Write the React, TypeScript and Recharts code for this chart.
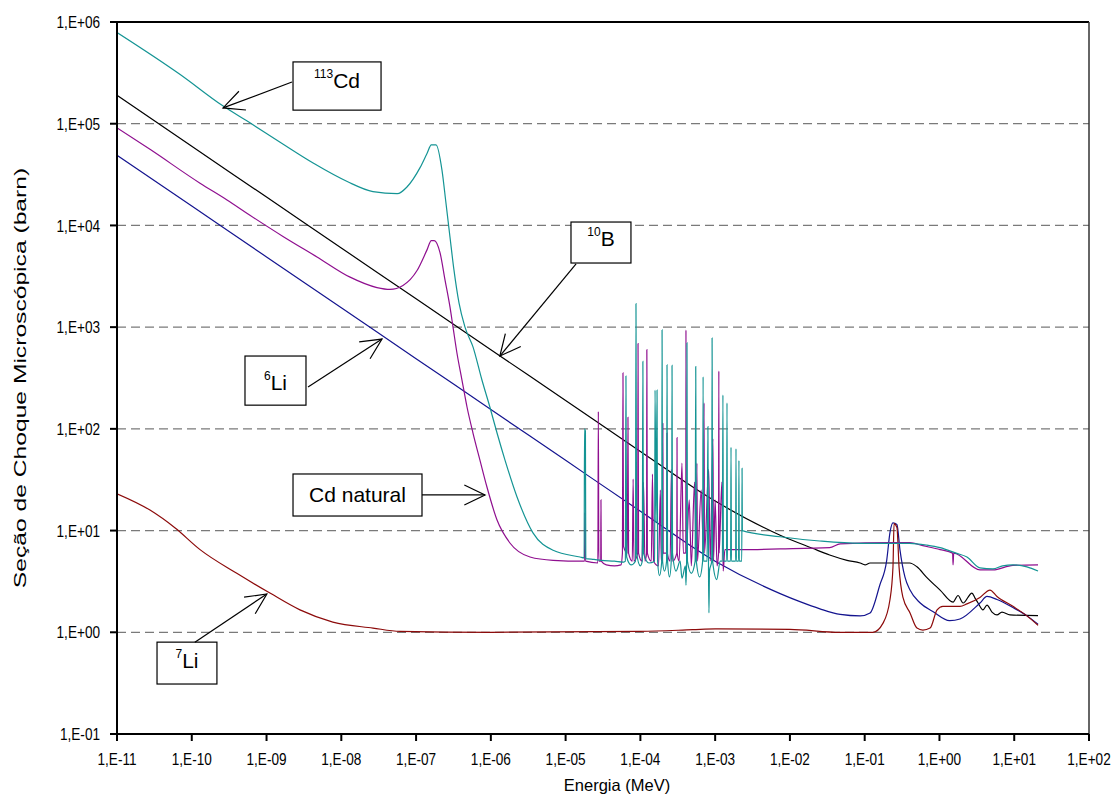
import React from 'react';
import { LineChart, Line, XAxis, YAxis, CartesianGrid, ReferenceLine, ReferenceArea } from 'recharts';

// Energy axis ticks (MeV) and cross-section ticks (barn)
const xTicks = [1e-11, 1e-10, 1e-9, 1e-8, 1e-7, 1e-6, 1e-5, 1e-4, 1e-3, 1e-2, 1e-1, 1e0, 1e1, 1e2];
const yTicks = [1e-1, 1e0, 1e1, 1e2, 1e3, 1e4, 1e5, 1e6];

// [energy MeV, sigma barn]
const cd113: [number, number][] = [
  [1e-11, 7.9e5], [7.0e-11, 3.05e5], [2.6e-10, 1.5e5], [6.0e-10, 1.02e5], [1.5e-9, 6.6e4], [4.2e-9, 4.1e4],
  [1.2e-8, 2.7e4], [2.65e-8, 2.15e4], [5.6e-8, 2.05e4], [7.6e-8, 2.4e4], [1.13e-7, 3.7e4], [1.4e-7, 5.1e4],
  [1.6e-7, 6.2e4], [1.85e-7, 6.2e4], [2.22e-7, 3.5e4], [2.51e-7, 1.66e4], [2.84e-7, 7.7e3], [3.21e-7, 3.65e3],
  [3.75e-7, 1.73e3], [4.51e-7, 1.0e3], [5.77e-7, 640], [7.6e-7, 302], [9.7e-7, 164], [1.21e-6, 91],
  [1.55e-6, 49], [2.24e-6, 21.4], [3.66e-6, 9.5], [6.8e-6, 6.4], [1.56e-5, 5.5],
  [1.77e-5, 5.4], [1.79e-5, 100], [1.84e-5, 95], [1.86e-5, 5.3], [2.4e-5, 5.2], [3.0e-5, 5.1], [4.5e-5, 5.0],
  [6.0e-5, 4.9], [6.3e-5, 5.0], [6.41e-5, 330], [6.55e-5, 5.5], [7.5e-5, 4.6], [8.6e-5, 5.0], [8.73e-5, 1700],
  [8.9e-5, 6.0], [1.0e-4, 4.5], [1.06e-4, 5.0], [1.08e-4, 460], [1.1e-4, 6.0], [1.3e-4, 4.8], [1.55e-4, 5.0],
  [1.57e-4, 240], [1.62e-4, 12], [1.67e-4, 240], [1.7e-4, 5.0], [1.8e-4, 3.6], [1.93e-4, 5.0], [1.95e-4, 940],
  [1.98e-4, 5.0], [2.1e-4, 4.0], [2.24e-4, 5.0], [2.27e-4, 425], [2.31e-4, 5.0], [2.45e-4, 3.5], [2.62e-4, 6.0],
  [2.65e-4, 420], [2.69e-4, 6.0], [3.0e-4, 4.0], [3.4e-4, 5.0], [3.6e-4, 3.4], [4.0e-4, 4.5], [4.07e-4, 2.9],
  [4.15e-4, 5.0], [4.2e-4, 700], [4.26e-4, 5.0], [4.8e-4, 3.8], [5.4e-4, 5.0], [5.5e-4, 410], [5.6e-4, 5.0],
  [6.2e-4, 3.5], [6.8e-4, 5.0], [6.9e-4, 325], [7.0e-4, 5.0], [7.8e-4, 5.0], [8.0e-4, 105], [8.15e-4, 4.0],
  [8.26e-4, 1.55], [8.4e-4, 4.0], [9.0e-4, 5.0], [9.1e-4, 780], [9.25e-4, 5.0], [1.05e-3, 3.3], [1.17e-3, 5.0],
  [1.25e-3, 5.0], [1.27e-3, 215], [1.29e-3, 5.0], [1.42e-3, 5.0], [1.44e-3, 180], [1.46e-3, 5.0], [1.61e-3, 5.0],
  [1.63e-3, 66], [1.65e-3, 5.0], [1.88e-3, 5.0], [1.9e-3, 64], [1.92e-3, 5.0], [2.06e-3, 5.0], [2.08e-3, 49],
  [2.1e-3, 5.0], [2.27e-3, 5.0], [2.29e-3, 41], [2.31e-3, 10], [7.4e-3, 8.7], [2.5e-2, 7.9], [8.7e-2, 7.5],
  [0.4, 7.5], [0.68, 7.2], [1.02, 6.8], [1.67, 6.0], [2.33, 5.5], [3.48, 4.3], [5.2, 4.2], [7.0, 4.5],
  [9.6, 4.6], [14.8, 4.4], [20.8, 4.0],
];

const cdNatural: [number, number][] = [
  [1e-11, 9.1e4], [2.76e-11, 5.6e4], [1.29e-10, 2.6e4], [2.96e-10, 1.78e4], [6.0e-10, 1.26e4], [1.66e-9, 7.8e3],
  [4.73e-9, 4.9e3], [1.31e-8, 3.1e3], [3.0e-8, 2.45e3], [4.48e-8, 2.35e3], [6.68e-8, 2.57e3], [1.03e-7, 3.6e3],
  [1.4e-7, 5.75e3], [1.6e-7, 7.1e3], [1.75e-7, 7.1e3], [2.09e-7, 5.4e3], [2.44e-7, 2.9e3], [2.84e-7, 1.58e3],
  [3.12e-7, 1.0e3], [3.52e-7, 557], [4.11e-7, 302], [4.8e-7, 164], [5.77e-7, 91], [7.16e-7, 49], [8.87e-7, 26.8],
  [1.21e-6, 12.7], [1.8e-6, 7.55], [3.34e-6, 5.5], [6.8e-6, 5.1], [1.71e-5, 5.0],
  [1.79e-5, 5.0], [1.81e-5, 15], [1.85e-5, 5.0], [2.7e-5, 4.8], [2.74e-5, 148], [2.78e-5, 5.0], [2.95e-5, 5.0],
  [2.97e-5, 20], [3.0e-5, 5.0], [3.5e-5, 4.6], [4.5e-5, 4.5], [5.5e-5, 4.6], [5.75e-5, 6.0], [5.85e-5, 355],
  [5.95e-5, 7.0], [6.7e-5, 6.0], [6.82e-5, 130], [6.95e-5, 6.0], [7.8e-5, 5.0], [8.0e-5, 32], [8.2e-5, 5.0],
  [9.2e-5, 6.0], [9.3e-5, 690], [9.45e-5, 6.0], [1.05e-4, 5.0], [1.1e-4, 30], [1.15e-4, 5.0], [1.21e-4, 6.0],
  [1.22e-4, 600], [1.24e-4, 6.0], [1.4e-4, 5.0], [1.45e-4, 36], [1.5e-4, 5.0], [1.75e-4, 4.5], [1.85e-4, 25],
  [1.9e-4, 5.0], [1.99e-4, 6.0], [2.0e-4, 115], [2.02e-4, 6.0], [2.26e-4, 6.0], [2.27e-4, 91], [2.29e-4, 6.0],
  [2.5e-4, 5.0], [2.6e-4, 40], [2.7e-4, 5.0], [3.07e-4, 6.0], [3.09e-4, 82], [3.11e-4, 6.0], [3.3e-4, 5.0],
  [3.6e-4, 46], [3.75e-4, 6.0], [4.05e-4, 6.0], [4.07e-4, 940], [4.1e-4, 6.0], [4.5e-4, 20], [4.8e-4, 4.5],
  [5.3e-4, 30], [5.6e-4, 5.0], [5.7e-4, 46], [5.8e-4, 5.0], [6.5e-4, 25], [7.0e-4, 6.0], [7.1e-4, 180],
  [7.2e-4, 6.0], [8.2e-4, 40], [8.6e-4, 5.0], [9.35e-4, 80], [9.5e-4, 5.0], [1.0e-3, 20], [1.06e-3, 4.5],
  [1.11e-3, 6.0], [1.12e-3, 370], [1.13e-3, 6.0], [1.23e-3, 30], [1.28e-3, 4.0], [1.35e-3, 6.5], [2.3e-3, 6.5],
  [7.4e-3, 6.6], [3.4e-2, 6.8], [4.7e-2, 7.4], [0.22, 7.6], [0.4, 7.6], [0.6, 7.1], [1.02, 6.5], [1.5, 6.0],
  [1.52, 4.6], [1.55, 6.0], [3.48, 4.1], [5.2, 4.1], [9.6, 4.55], [20.8, 4.6],
];

const b10: [number, number][] = [
  [1e-11, 1.9e5], [1e-10, 6.0e4], [1e-9, 1.9e4], [1e-8, 6.0e3], [1e-7, 1.9e3], [1e-6, 600], [1e-5, 190],
  [1e-4, 60], [1e-3, 19.5], [7.4e-3, 9.0], [2.0e-2, 6.7], [3.4e-2, 5.75], [5.8e-2, 5.1], [8.7e-2, 4.8],
  [0.101, 4.6], [0.118, 4.8], [0.4, 4.8], [0.5, 4.4], [0.68, 3.45], [1.02, 2.6], [1.52, 1.98], [1.77, 2.3],
  [2.07, 1.94], [2.72, 2.43], [2.99, 2.17], [3.28, 1.94], [3.82, 1.66], [4.32, 1.85], [5.04, 1.58], [5.88, 1.48],
  [6.86, 1.58], [8.77, 1.48], [20.8, 1.46],
];

const li6: [number, number][] = [
  [1e-11, 4.9e4], [1e-10, 1.55e4], [1e-9, 4.9e3], [1e-8, 1.55e3], [1e-7, 490], [1e-6, 155], [1e-5, 49],
  [1e-4, 15.5], [1e-3, 5.0], [7.4e-3, 2.4], [1.36e-2, 2.0], [2.52e-2, 1.7], [4.7e-2, 1.5], [8.7e-2, 1.45],
  [0.118, 1.55], [0.159, 2.9], [0.197, 5.1], [0.218, 9.6], [0.239, 11.9], [0.27, 11.5], [0.296, 6.5],
  [0.345, 3.5], [0.404, 2.6], [0.548, 1.95], [0.815, 1.6], [1.37, 1.3], [1.88, 1.35], [3.48, 1.94],
  [4.32, 2.25], [5.88, 2.1], [9.6, 1.75], [14.8, 1.45], [20.8, 1.2],
];

const li7: [number, number][] = [
  [1e-11, 23], [2.76e-11, 15.9], [6.0e-11, 10.6], [1.29e-10, 6.5], [4.0e-10, 3.8], [1.11e-9, 2.43],
  [2.8e-9, 1.66], [7.7e-9, 1.26], [2.65e-8, 1.1], [6.1e-8, 1.02], [1e-6, 1.0], [1e-4, 1.02], [5e-4, 1.06],
  [1e-3, 1.08], [1e-2, 1.07], [4.7e-2, 1.0], [0.129, 1.0], [0.176, 1.23], [0.218, 2.1], [0.239, 4.4],
  [0.247, 11.7], [0.27, 10.7], [0.288, 4.4], [0.325, 2.2], [0.404, 1.55], [0.5, 1.1], [0.6, 1.05], [0.75, 1.1],
  [0.93, 1.66], [1.11, 1.8], [1.88, 1.8], [2.33, 1.9], [3.48, 2.2], [4.74, 2.6], [5.88, 2.25], [9.6, 1.8],
  [14.8, 1.45], [20.8, 1.17],
];

const seriesNames = ['10B', '6Li', '7Li', 'Cd natural', '113Cd'];
const seriesColors = ['#000000', '#14148f', '#8c0a0a', '#8f0f8f', '#149494'];
const seriesData = [b10, li6, li7, cdNatural, cd113];

// Annotation boxes: [xLeft, xRight, yTop, yBottom] in data units, arrow from -> to
const annotations = [
  { sup: '113', text: 'Cd', box: [2.26e-9, 3.4e-8, 4.05e5, 1.36e5], from: [2.19e-9, 2.57e5], to: [2.62e-10, 1.43e5], base: 26 },
  { sup: '10', text: 'B', box: [1.18e-5, 7.48e-5, 1.08e4, 4.27e3], from: [1.38e-5, 4.18e3], to: [1.32e-6, 520], base: 24 },
  { sup: '6', text: 'Li', box: [5.15e-10, 3.37e-9, 520, 171], from: [3.59e-9, 258], to: [3.5e-8, 764], base: 34 },
  { sup: '', text: 'Cd natural', box: [2.26e-9, 1.2e-7, 36, 13.9], from: [1.2e-7, 22.4], to: [8.36e-7, 22.4], base: 28 },
  { sup: '7', text: 'Li', box: [3.43e-11, 2.17e-10, 0.8, 0.31], from: [1.1e-10, 0.8], to: [1.01e-9, 2.38], base: 26 },
];

const FONT = '"Liberation Sans", Arial, Helvetica, sans-serif';

const fmt = (v: number) => {
  const e = Math.round(Math.log10(v));
  return `1,E${e < 0 ? '-' : '+'}${String(Math.abs(e)).padStart(2, '0')}`;
};

const YTick = (p: any) => (
  <g transform={`translate(${p.x},${p.y})`}>
    <text transform="scale(0.8,1)" textAnchor="end" dy="0.36em" fontSize={17} fontFamily={FONT} fill="#000">
      {fmt(p.payload.value)}
    </text>
  </g>
);

const XTick = (p: any) => (
  <g transform={`translate(${p.x},${p.y})`}>
    <text transform="scale(0.8,1)" textAnchor="middle" dy="0.71em" fontSize={17} fontFamily={FONT} fill="#000">
      {fmt(p.payload.value)}
    </text>
  </g>
);

const Arrow = (props: any) => {
  const { x1, y1, x2, y2 } = props;
  const ang = Math.atan2(y2 - y1, x2 - x1);
  const len = 23;
  const sp = 0.45;
  const ax = x2 - len * Math.cos(ang - sp);
  const ay = y2 - len * Math.sin(ang - sp);
  const bx = x2 - len * Math.cos(ang + sp);
  const by = y2 - len * Math.sin(ang + sp);
  return (
    <g>
      <line x1={x1} y1={y1} x2={x2} y2={y2} stroke="#000" strokeWidth={1.2} />
      <polyline points={`${ax},${ay} ${x2},${y2} ${bx},${by}`} fill="none" stroke="#000" strokeWidth={1.2} />
    </g>
  );
};

const makeBox = (sup: string, text: string, base: number) => (props: any) => {
  const { x, y, width, height } = props;
  return (
    <g>
      <rect x={x} y={y} width={width} height={height} fill="#fff" stroke="#000" strokeWidth={1.2} />
      <text x={x + width / 2} y={y + base} textAnchor="middle" fontFamily={FONT} fontSize={21} fill="#000">
        {sup ? <tspan fontSize={12} dy={-10}>{sup}</tspan> : null}
        <tspan dy={sup ? 10 : 0}>{text}</tspan>
      </text>
    </g>
  );
};

const YTitle = (props: any) => {
  const vb = props.viewBox || {};
  const cx = (vb.x || 0) + 20;
  const cy = (vb.y || 0) + (vb.height || 0) / 2;
  return (
    <g transform={`translate(${cx},${cy}) rotate(-90)`}>
      <text x={0} y={0} transform="scale(1.45,1)" textAnchor="middle" dominantBaseline="central"
        fontFamily={FONT} fontSize={17} fill="#000">
        Seção de Choque Microscópica (barn)
      </text>
    </g>
  );
};

const XTitle = (props: any) => {
  const vb = props.viewBox || {};
  const cx = (vb.x || 0) + (vb.width || 0) / 2 + 14;
  const cy = (vb.y || 0) + 57;
  return (
    <text x={cx} y={cy} textAnchor="middle" fontFamily={FONT} fontSize={16.5} fill="#000">
      Energia (MeV)
    </text>
  );
};

export default function App() {
  return (
    <div style={{ position: 'absolute', left: 0, top: 0, background: '#fff' }}>
      <LineChart width={1115} height={796} margin={{ top: 22, right: 26, left: 0, bottom: 0 }}>
        <CartesianGrid vertical={false} stroke="#7a7a7a" strokeDasharray="9 5" strokeWidth={1.2} />
        <XAxis
          dataKey="x"
          type="number"
          scale="log"
          domain={[1e-11, 100]}
          allowDataOverflow
          ticks={xTicks}
          interval={0}
          height={62}
          tickSize={7}
          tickMargin={12}
          axisLine={{ stroke: '#000', strokeWidth: 2 }}
          tickLine={{ stroke: '#000', strokeWidth: 2 }}
          tick={<XTick />}
          label={{ content: <XTitle /> }}
        />
        <YAxis
          dataKey="y"
          type="number"
          scale="log"
          domain={[0.1, 1e6]}
          allowDataOverflow
          ticks={yTicks}
          interval={0}
          width={117}
          tickSize={7}
          tickMargin={10}
          axisLine={{ stroke: '#000', strokeWidth: 2 }}
          tickLine={{ stroke: '#000', strokeWidth: 2 }}
          tick={<YTick />}
          label={{ content: <YTitle /> }}
        />
        <ReferenceLine y={1e6} stroke="#000" strokeWidth={2} ifOverflow="visible" />
        <ReferenceLine x={100} stroke="#333" strokeWidth={1.5} ifOverflow="visible" />
        {seriesData.map((d, i) => (
          <Line
            key={seriesNames[i]}
            name={seriesNames[i]}
            data={d.map(([x, y]) => ({ x, y }))}
            dataKey="y"
            type="monotone"
            stroke={seriesColors[i]}
            strokeWidth={1.2}
            dot={false}
            activeDot={false}
            isAnimationActive={false}
          />
        ))}
        {annotations.map((a, i) => (
          <ReferenceArea
            key={'box' + i}
            x1={a.box[0]}
            x2={a.box[1]}
            y1={a.box[3]}
            y2={a.box[2]}
            ifOverflow="visible"
            shape={makeBox(a.sup, a.text, a.base)}
          />
        ))}
        {annotations.map((a, i) => (
          <ReferenceLine
            key={'arr' + i}
            segment={[{ x: a.from[0], y: a.from[1] }, { x: a.to[0], y: a.to[1] }]}
            ifOverflow="visible"
            shape={Arrow}
          />
        ))}
      </LineChart>
    </div>
  );
}
